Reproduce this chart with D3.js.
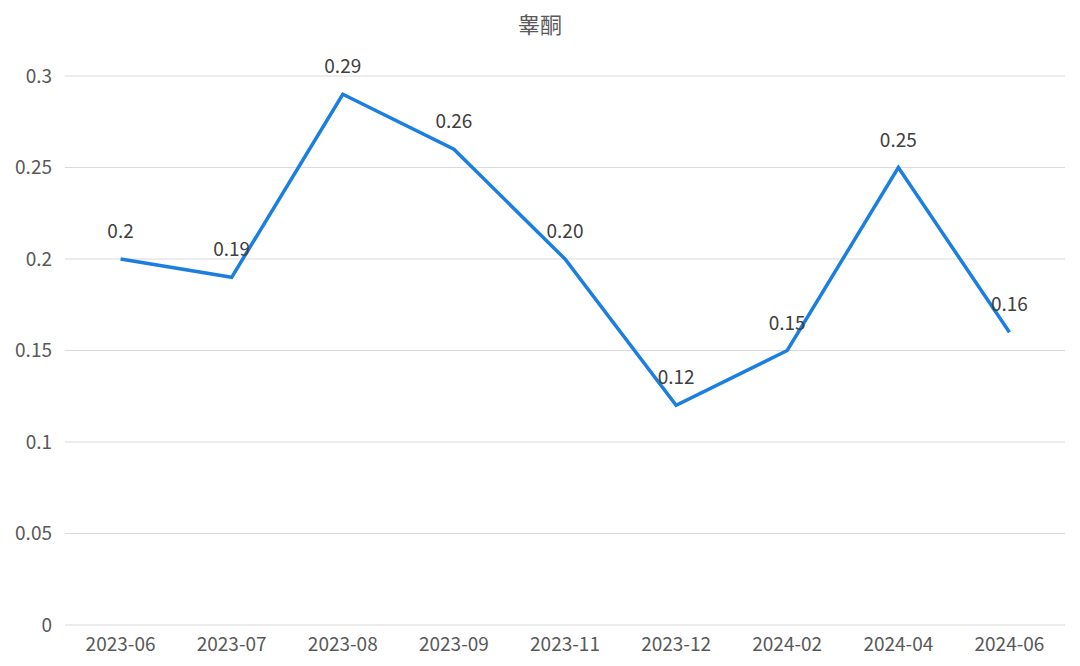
<!DOCTYPE html>
<html>
<head>
<meta charset="utf-8">
<script src="https://cdn.jsdelivr.net/npm/d3@7"></script>
<style>
  body { margin: 0; background: #fff; }
  svg text { font-family: "Noto Sans CJK SC", "Noto Sans", sans-serif; }
</style>
</head>
<body>
<div id="chart"></div>
<script>
const categories = ['2023-06', '2023-07', '2023-08', '2023-09', '2023-11', '2023-12', '2024-02', '2024-04', '2024-06'];
const values = [0.2, 0.19, 0.29, 0.26, 0.20, 0.12, 0.15, 0.25, 0.16];
const valueLabels = ['0.2', '0.19', '0.29', '0.26', '0.20', '0.12', '0.15', '0.25', '0.16'];
const yTicks = [0, 0.05, 0.1, 0.15, 0.2, 0.25, 0.3];
const title = '睾酮';

const width = 1080, height = 666;
const margin = { top: 76, right: 15, bottom: 41, left: 65 };

const svg = d3.select('#chart').append('svg')
  .attr('width', width)
  .attr('height', height);

const x = d3.scaleBand()
  .domain(categories)
  .range([margin.left, width - margin.right]);

const y = d3.scaleLinear()
  .domain([0, 0.3])
  .range([height - margin.bottom, margin.top]);

// title
svg.append('text')
  .attr('x', width / 2)
  .attr('y', 33)
  .attr('text-anchor', 'middle')
  .attr('fill', '#595959')
  .attr('font-size', '22px')
  .text(title);

// grid lines
svg.append('g')
  .selectAll('line')
  .data(yTicks)
  .enter()
  .append('line')
  .attr('x1', margin.left)
  .attr('x2', width - margin.right)
  .attr('y1', d => y(d))
  .attr('y2', d => y(d))
  .attr('stroke', '#d9d9d9')
  .attr('stroke-width', 1);

// y axis labels
const yAxis = svg.append('g')
  .attr('transform', `translate(${margin.left},0)`)
  .call(d3.axisLeft(y).tickValues(yTicks).tickSize(0).tickPadding(13).tickFormat(d => String(d)));
yAxis.select('.domain').remove();
yAxis.selectAll('text')
  .attr('fill', '#595959')
  .attr('font-size', '19px');

// x axis labels
const xAxis = svg.append('g')
  .attr('transform', `translate(0,${height - margin.bottom})`)
  .call(d3.axisBottom(x).tickSize(0).tickPadding(13));
xAxis.select('.domain').remove();
xAxis.selectAll('text')
  .attr('fill', '#595959')
  .attr('font-size', '19px');

const cx = d => x(d) + x.bandwidth() / 2;

// line
const line = d3.line()
  .x((d, i) => cx(categories[i]))
  .y(d => y(d));

svg.append('path')
  .datum(values)
  .attr('d', line)
  .attr('fill', 'none')
  .attr('stroke', '#1a7fe0')
  .attr('stroke-width', 3.5)
  .attr('stroke-linejoin', 'miter');

// value labels
svg.append('g')
  .selectAll('text')
  .data(values)
  .enter()
  .append('text')
  .attr('x', (d, i) => cx(categories[i]))
  .attr('y', d => y(d) - 21)
  .attr('text-anchor', 'middle')
  .attr('fill', '#404040')
  .attr('font-size', '19px')
  .text((d, i) => valueLabels[i]);
</script>
</body>
</html>
